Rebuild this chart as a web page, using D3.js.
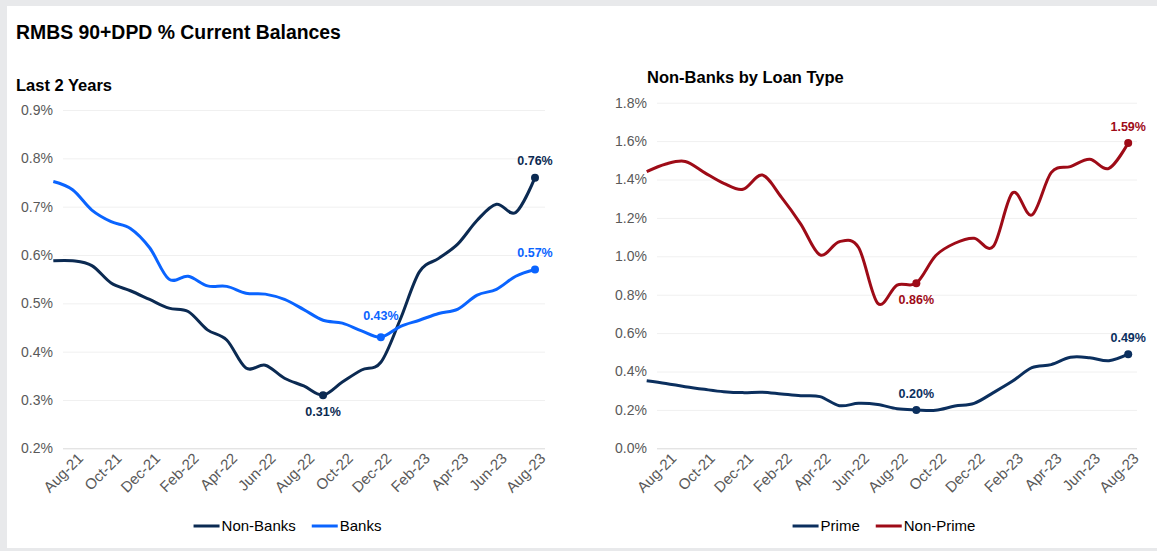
<!DOCTYPE html>
<html>
<head>
<meta charset="utf-8">
<script src="https://cdn.jsdelivr.net/npm/d3@7"></script>
<style>
  html, body { margin: 0; padding: 0; background: #e8e9eb; }
  svg { display: block; font-family: "Liberation Sans", Arial, sans-serif; }
</style>
</head>
<body>
<svg id="chart" width="1157" height="551"></svg>
<script>
// ---------- DATA ----------
const months = ["Jul-21","Aug-21","Sep-21","Oct-21","Nov-21","Dec-21","Jan-22","Feb-22","Mar-22",
  "Apr-22","May-22","Jun-22","Jul-22","Aug-22","Sep-22","Oct-22","Nov-22","Dec-22","Jan-23",
  "Feb-23","Mar-23","Apr-23","May-23","Jun-23","Jul-23","Aug-23"];
const tickLabels = ["Aug-21","Oct-21","Dec-21","Feb-22","Apr-22","Jun-22","Aug-22","Oct-22",
  "Dec-22","Feb-23","Apr-23","Jun-23","Aug-23"];

const nonBanks = [0.588,0.588,0.578,0.542,0.526,0.508,0.490,0.483,0.445,0.424,0.366,0.372,0.345,
  0.329,0.310,0.337,0.362,0.378,0.466,0.565,0.593,0.623,0.672,0.705,0.688,0.760];
const banks = [0.752,0.735,0.693,0.669,0.655,0.615,0.550,0.556,0.536,0.535,0.521,0.519,0.508,
  0.487,0.465,0.459,0.443,0.430,0.452,0.465,0.479,0.488,0.517,0.529,0.556,0.570];

const prime = [0.352,0.338,0.321,0.307,0.295,0.290,0.292,0.283,0.274,0.269,0.222,0.234,0.228,
  0.206,0.200,0.198,0.220,0.234,0.290,0.350,0.420,0.436,0.474,0.472,0.456,0.490];
const nonPrime = [1.441,1.481,1.494,1.436,1.380,1.349,1.423,1.307,1.168,1.007,1.076,1.046,0.755,
  0.850,0.860,1.003,1.068,1.094,1.052,1.331,1.215,1.436,1.467,1.505,1.458,1.590];

const leftTicks = [0.2,0.3,0.4,0.5,0.6,0.7,0.8,0.9];
const rightTicks = [0.0,0.2,0.4,0.6,0.8,1.0,1.2,1.4,1.6,1.8];

// annotations: series key, month, placement
const leftNotes = [
  {series: "Non-Banks", month: "Sep-22", place: "below"},
  {series: "Banks", month: "Dec-22", place: "high"},
  {series: "Non-Banks", month: "Aug-23", place: "above"},
  {series: "Banks", month: "Aug-23", place: "above"}
];
const rightNotes = [
  {series: "Non-Prime", month: "Sep-22", place: "below"},
  {series: "Prime", month: "Sep-22", place: "above"},
  {series: "Non-Prime", month: "Aug-23", place: "above"},
  {series: "Prime", month: "Aug-23", place: "above"}
];

// ---------- DRAWING ----------
const svg = d3.select("#chart");
svg.append("rect").attr("x", 7).attr("y", 6).attr("width", 1150).attr("height", 542).attr("fill", "#ffffff");

svg.append("text").attr("x", 16).attr("y", 39).attr("font-size", 19.4).attr("font-weight", "bold")
  .attr("fill", "#000").text("RMBS 90+DPD % Current Balances");

function drawPanel(cfg) {
  const g = svg.append("g");
  const x = d3.scalePoint().domain(months).range([cfg.x0, cfg.x1]);
  const y = d3.scaleLinear().domain(cfg.yDomain).range([448.3, cfg.yTop]);

  g.append("text").attr("x", cfg.titleX).attr("y", cfg.titleY).attr("font-size", 16.5)
    .attr("font-weight", "bold").attr("fill", "#000").text(cfg.title);

  // y axis with gridlines
  const yAxis = d3.axisLeft(y).tickValues(cfg.yTicks).tickFormat(d => d.toFixed(1) + "%")
    .tickSizeInner(-(cfg.gx1 - cfg.gx0)).tickSizeOuter(0).tickPadding(10);
  const ya = g.append("g").attr("transform", `translate(${cfg.gx0},0)`).call(yAxis);
  ya.select(".domain").remove();
  ya.selectAll(".tick line").attr("stroke", d => d === cfg.yDomain[0] ? "#d9d9d9" : "#f0f0f0")
    .attr("stroke-width", 1);
  ya.selectAll(".tick text").attr("font-size", 14).attr("fill", "#595959")
    .attr("font-family", "Liberation Sans, Arial, sans-serif");

  // x axis
  const xAxis = d3.axisBottom(x).tickValues(tickLabels).tickSize(0);
  const xa = g.append("g").attr("transform", "translate(0,448.3)").call(xAxis);
  xa.select(".domain").remove();
  xa.selectAll(".tick text").attr("font-size", 15).attr("fill", "#595959")
    .attr("font-family", "Liberation Sans, Arial, sans-serif")
    .attr("text-anchor", "end").attr("x", 0).attr("y", 0).attr("dy", 0)
    .attr("transform", "translate(11,11) rotate(-45)");

  const line = d3.line().x((d, i) => x(months[i])).y(d => y(d)).curve(d3.curveCardinal.tension(0));

  cfg.series.forEach(s => {
    g.append("path").datum(s.values).attr("d", line).attr("fill", "none")
      .attr("stroke", s.color).attr("stroke-width", 3).attr("stroke-linejoin", "round");
  });

  cfg.notes.forEach(n => {
    const s = cfg.series.find(q => q.name === n.series);
    const i = months.indexOf(n.month);
    const cx = x(n.month), cy = y(s.values[i]);
    g.append("circle").attr("cx", cx).attr("cy", cy).attr("r", 4).attr("fill", s.color);
    const dy = n.place === "below" ? 21 : (n.place === "high" ? -17 : -12.3);
    g.append("text").attr("x", cx).attr("y", cy + dy).attr("text-anchor", "middle")
      .attr("font-size", 12.5).attr("font-weight", "bold").attr("fill", s.color)
      .text(s.values[i].toFixed(2) + "%");
  });

  // legend
  const lg = g.append("g");
  let lx = 0;
  cfg.series.forEach(s => {
    const it = lg.append("g").attr("transform", `translate(${lx},0)`);
    it.append("line").attr("x1", 0).attr("x2", 26).attr("y1", 0).attr("y2", 0)
      .attr("stroke", s.color).attr("stroke-width", 3);
    const t = it.append("text").attr("x", 28).attr("y", 0).attr("dy", "0.35em")
      .attr("font-size", 15).attr("fill", "#000").text(s.name);
    const w = t.node().getComputedTextLength();
    lx += 28 + w + 16;
  });
  const totalW = lx - 16;
  lg.attr("transform", `translate(${cfg.legendCX - totalW / 2},526)`);
}

drawPanel({
  title: "Last 2 Years", titleX: 16, titleY: 90.5,
  x0: 53.3, x1: 535, gx0: 63, gx1: 545, yDomain: [0.2, 0.9], yTop: 110, yTicks: leftTicks,
  series: [
    {name: "Non-Banks", values: nonBanks, color: "#0b2a52"},
    {name: "Banks", values: banks, color: "#0a64ff"}
  ],
  notes: leftNotes, legendCX: 287.5
});

drawPanel({
  title: "Non-Banks by Loan Type", titleX: 647, titleY: 82.5,
  x0: 646.7, x1: 1128.2, gx0: 657, gx1: 1137, yDomain: [0, 1.8], yTop: 102.7, yTicks: rightTicks,
  series: [
    {name: "Prime", values: prime, color: "#0b2f5e"},
    {name: "Non-Prime", values: nonPrime, color: "#9e0b17"}
  ],
  notes: rightNotes, legendCX: 884
});
</script>
</body>
</html>
